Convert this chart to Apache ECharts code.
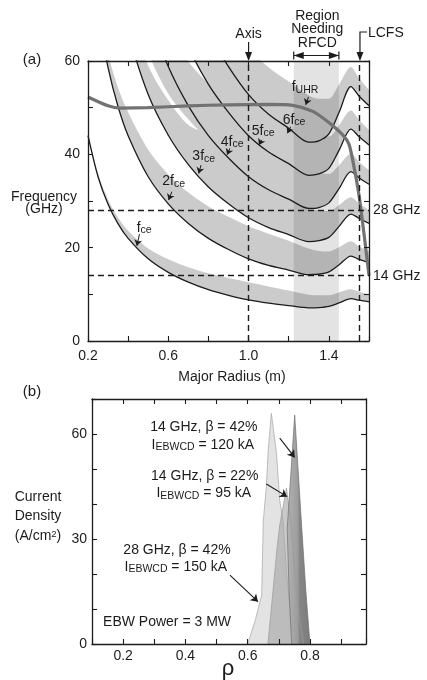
<!DOCTYPE html>
<html>
<head>
<meta charset="utf-8">
<title>EBW resonances and current drive</title>
<script src="https://cdn.jsdelivr.net/npm/echarts@6.0.0/dist/echarts.min.js"></script>
<style>
  html, body { margin: 0; padding: 0; background: #fff; }
  #chart { width: 427px; height: 680px; }
</style>
</head>
<body>
<div id="chart"></div>
<script>
// ---- panel (a): cyclotron harmonics vs major radius ----
const radius = [0.2, 0.25, 0.3, 0.35, 0.4, 0.5, 0.6, 0.7, 0.8, 0.9, 1.0, 1.1, 1.2, 1.3, 1.35, 1.4, 1.45, 1.51, 1.55, 1.6];
const fce1 = [44, 35.2, 29.3, 25.1, 22.0, 17.6, 14.7, 12.6, 11.0, 9.8, 8.8, 8.1, 7.6, 7.1, 7.15, 7.4, 8.15, 9.08, 8.75, 8.4];
const fce2 = [88, 70.4, 58.6, 50.2, 44.0, 35.2, 29.4, 25.2, 22.0, 19.6, 17.6, 16.2, 15.2, 14.2, 14.3, 14.8, 16.3, 18.2, 17.5, 16.8];
const fce3 = [132, 105.6, 87.9, 75.3, 66.0, 52.8, 44.1, 37.8, 33.0, 29.4, 26.4, 24.3, 22.8, 21.3, 21.5, 22.2, 24.5, 27.2, 26.3, 25.2];
const fce4 = [176, 140.8, 117.2, 100.4, 88.0, 70.4, 58.8, 50.4, 44.0, 39.2, 35.2, 32.4, 30.4, 28.4, 28.6, 29.6, 32.6, 36.3, 35.0, 33.6];
const fce5 = [220, 176, 146.5, 125.5, 110, 88, 73.5, 63, 55, 49, 44, 40.5, 38, 35.5, 35.8, 37, 40.8, 45.4, 43.8, 42];
const fce6 = [264, 211.2, 175.8, 150.6, 132, 105.6, 88.2, 75.6, 66, 58.8, 52.8, 48.6, 45.6, 42.6, 42.9, 44.4, 48.9, 54.5, 52.5, 50.4];

// upper edges of the shaded (Doppler broadened) bands
const band1Top = [44.5, 36.0, 30.3, 26.4, 23.6, 19.8, 17.5, 15.8, 14.5, 13.5, 12.6, 11.7, 10.8, 9.9, 9.8, 9.8, 10.4, 11.1, 10.6, 9.9];
const band2Top = [90, 72.9, 61.6, 54.2, 49.0, 41.0, 35.7, 31.8, 28.8, 26.6, 24.6, 23.0, 21.5, 19.8, 19.3, 19.2, 20.1, 21.4, 20.3, 19.2];
const band3Top = [135, 109.1, 91.9, 79.8, 71.5, 59.0, 51.6, 46.3, 44.2, 39.4, 35.9, 33.3, 31.0, 28.5, 28.0, 27.8, 29.1, 30.8, 29.5, 28.0];
const band4Top = [180, 144.8, 122.2, 105.9, 94.5, 77.9, 67.3, 59.9, 55.0, 49.2, 45.2, 41.9, 39.4, 36.6, 36.0, 35.8, 37.6, 40.1, 38.4, 36.6];
const band5Top = [225, 181, 152.5, 132, 117.5, 96.5, 82.5, 73, 65, 59, 54, 50.5, 47.5, 44.5, 43.8, 43.8, 46.2, 49.4, 47.4, 45.2];
const band6Top = [269, 216.2, 181.8, 157.6, 140, 114.6, 97.7, 85.6, 76, 68.8, 62.8, 58.6, 55.6, 52.6, 51.9, 51.9, 54.9, 58.7, 56.3, 53.8];
// the 4fce band also reaches a bit below its resonance on the inboard side
const band4Bottom = [176, 140.8, 117.2, 100.4, 80.0, 62.0, 53.0, 47.5, 43.0, 39.2, 35.2, 32.4, 30.4, 28.4, 28.6, 29.6, 32.6, 36.3, 35.0, 33.6];

// upper hybrid resonance
const uhrRadius = [0.2, 0.3, 0.36, 0.5, 0.7, 0.9, 1.1, 1.22, 1.32, 1.4, 1.47, 1.5, 1.52, 1.55, 1.575, 1.6];
const uhrFreq = [52.3, 50.4, 49.9, 50.0, 50.4, 50.6, 50.7, 50.5, 49.2, 46.8, 44.1, 42.2, 38.5, 31.3, 23.0, 14.0];

const axisRadius = 1.0;
const lcfsRadius = 1.555;
const rfcdRegion = [1.225, 1.45];
const launchFreqs = [28, 14];

const xLabelsA = [0.2, 0.6, 1.0, 1.4];
const yLabelsA = [0, 20, 40, 60];

// ---- panel (b): EBW driven current density profiles ----
const rho28GHz42 = [0.60, 0.625, 0.645, 0.65, 0.66, 0.666, 0.676, 0.692, 0.703, 0.714, 0.725, 0.74, 0.75];
const j28GHz42 = [0, 7, 14, 35, 45, 55.5, 65.9, 55, 41, 35, 20, 7, 0];
const rho14GHz22 = [0.665, 0.68, 0.695, 0.703, 0.7245, 0.74, 0.752, 0.765, 0.78];
const j14GHz22 = [0, 14, 28, 34, 44.5, 34, 20, 8, 0];
const rho14GHz42 = [0.741, 0.733, 0.727, 0.751, 0.773, 0.787, 0.8];
const j14GHz42 = [0, 15, 33, 65.4, 34, 15, 0];

const xLabelsB = [0.2, 0.4, 0.6, 0.8];
const yLabelsB = [0, 30, 60];

const font = 'Liberation Sans, Arial, Helvetica, sans-serif';
const ink = '#1c1c1c';
const bandGray = '#cbcbcb';

const pairs = (xs, ys) => xs.map((x, i) => [x, ys[i]]);
const near = (list, v) => list.some(t => Math.abs(t - v) < 1e-6);

function valueAxis(gridIndex, position, min, max, interval, labels, digits, margin) {
  return {
    type: 'value', gridIndex, position, min, max, interval, z: 10,
    axisLine: { show: true, onZero: false, lineStyle: { color: ink, width: 1.3 } },
    axisTick: { show: true, inside: true, length: 5, lineStyle: { color: ink, width: 1.1 } },
    axisLabel: labels
      ? { show: true, margin, color: ink, fontSize: 14, fontFamily: font,
          formatter: v => (near(labels, v) ? v.toFixed(digits) : '') }
      : { show: false },
    splitLine: { show: false }
  };
}

function areaSeries(ys, color) {
  return {
    type: 'line', xAxisIndex: 0, yAxisIndex: 0, data: pairs(radius, ys),
    smooth: 0.3, symbol: 'none', silent: true, z: 1,
    lineStyle: { opacity: 0 },
    areaStyle: { color, opacity: 1, origin: 'start' }
  };
}

const harmonics = [fce1, fce2, fce3, fce4, fce5, fce6];
const bandTops = [band1Top, band2Top, band3Top, band4Top, band5Top, band6Top];
const bandBottoms = [fce1, fce2, fce3, band4Bottom, fce5, fce6];

const series = [];
// paint the bands from the highest harmonic down
for (let n = 5; n >= 0; n--) {
  series.push(areaSeries(bandTops[n], bandGray));
  series.push(areaSeries(bandBottoms[n], '#ffffff'));
}

// region needing RFCD
series.push({
  type: 'line', xAxisIndex: 0, yAxisIndex: 0, data: [[1.3, 30]], symbol: 'none', silent: true, z: 2,
  lineStyle: { opacity: 0 },
  markArea: {
    silent: true, z: 2, itemStyle: { color: 'rgba(0,0,0,0.11)' },
    data: [[{ coord: [rfcdRegion[0], 0] }, { coord: [rfcdRegion[1], 60] }]]
  }
});

harmonics.forEach(h => series.push({
  type: 'line', xAxisIndex: 0, yAxisIndex: 0, data: pairs(radius, h),
  smooth: 0.3, symbol: 'none', silent: true, z: 3,
  lineStyle: { color: ink, width: 1.3 }
}));

series.push({
  type: 'line', xAxisIndex: 0, yAxisIndex: 0, data: pairs(uhrRadius, uhrFreq),
  smooth: 0.25, symbol: 'none', silent: true, z: 4,
  lineStyle: { color: '#727272', width: 3.2 }
});

series.push({
  type: 'line', xAxisIndex: 0, yAxisIndex: 0, data: [[1.3, -100]], symbol: 'none', silent: true, z: 5,
  markLine: {
    silent: true, symbol: 'none', label: { show: false },
    lineStyle: { color: ink, type: [6, 4], width: 1.4 },
    data: [{ xAxis: axisRadius }, { xAxis: lcfsRadius }].concat(launchFreqs.map(f => ({ yAxis: f })))
  }
});

const harmonicNotes = [
  { text: '{n|f}{s|ce}', at: [0.48, 24.2], from: [0.4565, 22.9], to: [0.4435, 20.4] },
  { text: '{n|2f}{s|ce}', at: [0.6265, 34.2], from: [0.618, 32.0], to: [0.6015, 30.2] },
  { text: '{n|3f}{s|ce}', at: [0.7767, 39.6], from: [0.7633, 37.7], to: [0.7517, 35.9] },
  { text: '{n|4f}{s|ce}', at: [0.9183, 42.7], from: [0.9067, 41.3], to: [0.8933, 39.9] },
  { text: '{n|5f}{s|ce}', at: [1.0725, 45.0], from: [1.065, 43.1], to: [1.0517, 42.0] },
  { text: '{n|6f}{s|ce}', at: [1.2267, 47.4], from: [1.21, 45.9], to: [1.1933, 44.5] },
  { text: '{n|f}{s|UHR}', at: [1.281, 54.3], from: [1.2983, 52.3], to: [1.285, 50.6] }
];

series.push({
  type: 'line', xAxisIndex: 0, yAxisIndex: 0, data: [[1.3, -100]], symbol: 'none', silent: true, z: 6,
  markLine: {
    silent: true, symbol: ['none', 'arrow'], symbolSize: 6, label: { show: false },
    lineStyle: { color: ink, type: 'solid', width: 1 },
    data: harmonicNotes.map(h => [{ coord: h.from }, { coord: h.to }])
  }
});

// panel (b) profiles
function profile(rho, j, fill, edge) {
  return {
    type: 'line', xAxisIndex: 2, yAxisIndex: 2, data: pairs(rho, j),
    symbol: 'none', silent: true, z: 2,
    lineStyle: { color: edge, width: 0.7 },
    areaStyle: { color: fill, opacity: 1, origin: 'start' }
  };
}
series.push(profile(rho28GHz42, j28GHz42, '#e3e3e3', '#a5a5a5'));
series.push(profile(rho14GHz22, j14GHz22, 'rgba(150,150,150,0.5)', '#9a9a9a'));
series.push(profile(rho14GHz42, j14GHz42, {
  type: 'linear', x: 0, y: 0, x2: 1, y2: 0,
  colorStops: [
    { offset: 0, color: '#b2b2b2' }, { offset: 0.45, color: '#9d9d9d' },
    { offset: 0.55, color: '#868686' }, { offset: 1, color: '#7c7c7c' }
  ]
}, '#6f6f6f'));

const currentNotes = [
  { title: '14 GHz, β = 42%', current: '120 kA', at: [0.459, 62.0], at2: [0.456, 56.9], from: [0.703, 58.8], to: [0.751, 53.3] },
  { title: '14 GHz, β = 22%', current: '95 kA', at: [0.462, 48.0], at2: [0.459, 43.1], from: [0.660, 45.7], to: [0.7265, 42.1] },
  { title: '28 GHz, β = 42%', current: '150 kA', at: [0.373, 26.9], at2: [0.369, 22.0], from: [0.543, 19.7], to: [0.633, 12.1] }
];

series.push({
  type: 'line', xAxisIndex: 2, yAxisIndex: 2, data: [[0.5, -100]], symbol: 'none', silent: true, z: 6,
  markLine: {
    silent: true, symbol: ['none', 'arrow'], symbolSize: 7, label: { show: false },
    lineStyle: { color: ink, type: 'solid', width: 1.1 },
    data: currentNotes.map(c => [{ coord: c.from }, { coord: c.to }])
  }
});

const option = {
  animation: false,
  backgroundColor: '#ffffff',
  textStyle: { fontFamily: font },
  grid: [
    { left: 88, top: 61, width: 281, height: 280 },
    { left: 92, top: 399, width: 274, height: 245 }
  ],
  xAxis: [
    valueAxis(0, 'bottom', 0.2, 1.6, 0.2, xLabelsA, 1, 8),
    valueAxis(0, 'top', 0.2, 1.6, 0.2, null),
    valueAxis(1, 'bottom', 0.1, 0.98, 0.1, xLabelsB, 1, 5),
    valueAxis(1, 'top', 0.1, 0.98, 0.1, null)
  ],
  yAxis: [
    valueAxis(0, 'left', 0, 60, 10, yLabelsA, 0, 8),
    valueAxis(0, 'right', 0, 60, 10, null),
    valueAxis(1, 'left', 0, 70, 10, yLabelsB, 0, 5),
    valueAxis(1, 'right', 0, 70, 10, null)
  ],
  series
};

const chart = echarts.init(document.getElementById('chart'));
chart.setOption(option);

// ---- annotations ----
const toA = p => chart.convertToPixel({ xAxisIndex: 0, yAxisIndex: 0 }, p);
const toB = p => chart.convertToPixel({ xAxisIndex: 2, yAxisIndex: 2 }, p);

const rich = {
  n: { fontSize: 14, fontFamily: font, fill: ink, lineHeight: 16 },
  s: { fontSize: 10.5, fontFamily: font, fill: ink, lineHeight: 8, verticalAlign: 'bottom' },
  p: { fontSize: 9.5, fontFamily: font, fill: ink, lineHeight: 9, verticalAlign: 'top' }
};
function text(pos, str, size, align) {
  return {
    type: 'text', x: pos[0], y: pos[1], silent: true, z: 100,
    style: { text: str, rich, fill: ink, fontSize: size || 14, fontFamily: font,
             align: align || 'center', verticalAlign: 'middle' }
  };
}
function seg(points) {
  return { type: 'polyline', silent: true, z: 100, shape: { points }, style: { stroke: ink, lineWidth: 1.2, fill: null } };
}
function head(tip, dir) {
  const [x, y] = tip;
  const pts = dir === 'down' ? [[x - 3.5, y - 9], [x + 3.5, y - 9], [x, y]]
    : dir === 'left' ? [[x + 10, y - 3.5], [x + 10, y + 3.5], [x, y]]
    : [[x - 10, y - 3.5], [x - 10, y + 3.5], [x, y]];
  return { type: 'polygon', silent: true, z: 100, shape: { points: pts }, style: { fill: ink } };
}

const els = [];
const ax = toA([axisRadius, 60]);
const lc = toA([lcfsRadius, 60]);
const r0 = toA([rfcdRegion[0], 60]);
const r1 = toA([rfcdRegion[1], 60]);
const plotTop = ax[1];

els.push(seg([[ax[0], plotTop - 19], [ax[0], plotTop - 2]]), head([ax[0], plotTop], 'down'), text([ax[0], plotTop - 27], 'Axis'));
els.push(seg([[lc[0] + 7, plotTop - 29], [lc[0], plotTop - 29], [lc[0], plotTop - 2]]), head([lc[0], plotTop], 'down'),
         text([lc[0] + 8, plotTop - 28], 'LCFS', 14, 'left'));
const ry = plotTop - 5.5;
const rc = (r0[0] + r1[0]) / 2 + 1;
els.push(seg([[r0[0], ry], [r1[0], ry]]), head([r0[0], ry], 'left'), head([r1[0], ry], 'right'),
         seg([[r0[0], ry - 4], [r0[0], ry + 4]]), seg([[r1[0], ry - 4], [r1[0], ry + 4]]));
els.push(text([rc, plotTop - 45], 'Region'), text([rc, plotTop - 31.5], 'Needing'), text([rc, plotTop - 18], 'RFCD'));

launchFreqs.forEach(f => {
  const p = toA([1.6, f]);
  els.push(text([p[0] + 4, p[1]], f + ' GHz', 14, 'left'));
});

harmonicNotes.forEach(h => els.push(text(toA(h.at), h.text)));

els.push(text([32, 60], '(a)', 15));
els.push(text([44, 197], 'Frequency'), text([44, 209], '(GHz)'));
els.push(text([232, 377], 'Major Radius (m)'));

els.push(text([32, 392], '(b)', 15));
els.push(text([38, 497], 'Current'), text([38, 516], 'Density'), text([38, 536], '(A/cm{p|2})'));
els.push(text([228, 669], 'ρ', 22));

currentNotes.forEach(c => {
  els.push(text(toB(c.at), c.title));
  els.push(text(toB(c.at2), '{n|I}{s|EBWCD}{n| = ' + c.current + '}'));
});
els.push(text(toB([0.341, 6.3]), 'EBW Power = 3 MW'));

chart.setOption({ graphic: els });
</script>
</body>
</html>
